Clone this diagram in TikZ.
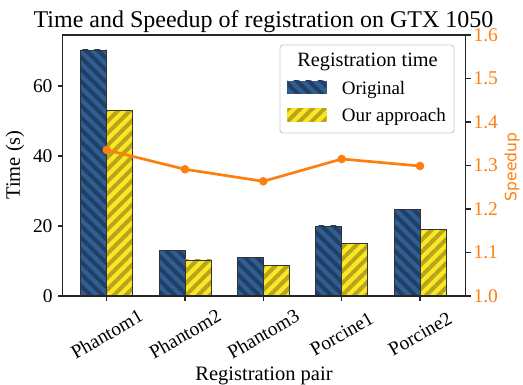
\documentclass[tikz,border=0pt]{standalone}
\usepackage{fontspec}
\setmainfont{Liberation Serif}
\newfontfamily\dejavusans{DejaVu Sans}
\usepackage{tikz}
\usetikzlibrary{patterns.meta}
\definecolor{origbase}{HTML}{305E90}
\definecolor{origdark}{HTML}{213F66}
\definecolor{oursbase}{HTML}{FDE725}
\definecolor{oursdark}{HTML}{B6A51C}
\definecolor{speedorange}{HTML}{FF7F0E}
\tikzset{
  origbar/.style={preaction={fill=origbase}, pattern={Lines[angle=-45,distance=8.5pt,line width=4pt]}, pattern color=origdark, draw=black!80, line width=0.8pt},
  oursbar/.style={preaction={fill=oursbase}, pattern={Lines[angle=45,distance=8.5pt,line width=4pt]}, pattern color=oursdark, draw=black!80, line width=0.8pt},
  spine/.style={draw=black!85, line width=1.1pt},
  ticklab/.style={font=\fontsize{19.5}{22}\selectfont, inner sep=0pt},
  speedlab/.style={ticklab, text=speedorange},
  legtext/.style={font=\fontsize{19}{22}\selectfont, inner sep=0pt, anchor=base west}
}
\begin{document}
\begin{tikzpicture}[x=1pt,y=-1pt]
\useasboundingbox (0,0) rectangle (523,385);
\coordinate (tl) at (62.7,35);
\coordinate (tr) at (465.5,35);
\coordinate (br) at (465.5,296);
\coordinate (o) at (62.7,296);
 \draw[origbar] (80.7,296) rectangle (106.7,50);
 \draw[oursbar] (106.7,296) rectangle (132.7,110.9);
 \draw[origbar] (159,296) rectangle (185,250.2);
 \draw[oursbar] (185,296) rectangle (211,260);
 \draw[origbar] (237.3,296) rectangle (263.3,257.3);
 \draw[oursbar] (263.3,296) rectangle (289.3,265.2);
 \draw[origbar] (315.7,296) rectangle (341.7,226);
 \draw[oursbar] (341.7,296) rectangle (367.7,243.3);
 \draw[origbar] (394,296) rectangle (420,209.2);
 \draw[oursbar] (420,296) rectangle (446,229.3);
 \draw[spine] (tl) -- (tr) -- (br) -- (o) -- cycle;
 \draw[spine] (o) -- ++(-5,0);
 \draw[spine] (62.7,226) -- ++(-5,0);
 \draw[spine] (62.7,156) -- ++(-5,0);
 \draw[spine] (62.7,86) -- ++(-5,0);
 \node[ticklab, anchor=east] at (52.7,296) {0};
 \node[ticklab, anchor=east] at (52.7,226) {20};
 \node[ticklab, anchor=east] at (52.7,156) {40};
 \node[ticklab, anchor=east] at (52.7,86) {60};
 \draw[spine] (br) -- ++(5,0);
 \draw[spine] (465.5,252.5) -- ++(5,0);
 \draw[spine] (465.5,209) -- ++(5,0);
 \draw[spine] (465.5,165.5) -- ++(5,0);
 \draw[spine] (465.5,122) -- ++(5,0);
 \draw[spine] (465.5,78.5) -- ++(5,0);
 \draw[spine] (tr) -- ++(5,0);
 \node[speedlab, anchor=west] at (473.3,296) {1.0};
 \node[speedlab, anchor=west] at (473.3,252.5) {1.1};
 \node[speedlab, anchor=west] at (473.3,209) {1.2};
 \node[speedlab, anchor=west] at (473.3,165.5) {1.3};
 \node[speedlab, anchor=west] at (473.3,122) {1.4};
 \node[speedlab, anchor=west] at (473.3,78.5) {1.5};
 \node[speedlab, anchor=west] at (473.3,35) {1.6};
 \draw[spine] (106.7,296) -- ++(0,5);
 \draw[spine] (185,296) -- ++(0,5);
 \draw[spine] (263.3,296) -- ++(0,5);
 \draw[spine] (341.7,296) -- ++(0,5);
 \draw[spine] (420,296) -- ++(0,5);
 \node[ticklab, rotate=30] at (106.7,334) {Phantom1};
 \node[ticklab, rotate=30] at (185,334) {Phantom2};
 \node[ticklab, rotate=30] at (263.3,334) {Phantom3};
 \node[ticklab, rotate=30] at (341.7,334) {Porcine1};
 \node[ticklab, rotate=30] at (420,334) {Porcine2};
 \node[font=\fontsize{24}{28}\selectfont, anchor=base, inner sep=0pt] (title) at (263.5,27.3) {Time and Speedup of registration on GTX 1050};
 \node[font=\fontsize{20.5}{24}\selectfont, anchor=base, inner sep=0pt] (xlab) at (264,381) {Registration pair};
 \node[font=\fontsize{20.5}{24}\selectfont, rotate=90, inner sep=0pt] (ylab) at (15,165) {Time (s)};
 \node[font=\dejavusans\fontsize{15.6}{18}\selectfont, text=speedorange, rotate=90, inner sep=0pt] (ylab2) at (512,167) {Speedup};
\coordinate (s1) at (106.7,150);
\coordinate (s2) at (185,169.3);
\coordinate (s3) at (263.3,181.3);
\coordinate (s4) at (341.7,159);
\coordinate (s5) at (420,166);
 \draw[speedorange, line width=2.7pt] (s1) -- (s2) -- (s3) -- (s4) -- (s5);
 \fill[speedorange] (s1) circle (4.3);
 \fill[speedorange] (s2) circle (4.3);
 \fill[speedorange] (s3) circle (4.3);
 \fill[speedorange] (s4) circle (4.3);
 \fill[speedorange] (s5) circle (4.3);
 \filldraw[draw=black!20, fill=white, rounded corners=3pt, line width=0.9pt] (280,45) rectangle (454,133);
 \node[font=\fontsize{20.3}{24}\selectfont, anchor=base, inner sep=0pt] (legtitle) at (367.5,66.7) {Registration time};
 \draw[origbar, draw=none] (287.3,80.7) rectangle (326.7,94);
 \draw[oursbar, draw=none] (287.3,108.3) rectangle (326.7,121.7);
 \node[legtext] (legorig) at (341.7,95) {Original};
 \node[legtext] (legours) at (341.7,122) {Our approach};
\end{tikzpicture}
\end{document}
